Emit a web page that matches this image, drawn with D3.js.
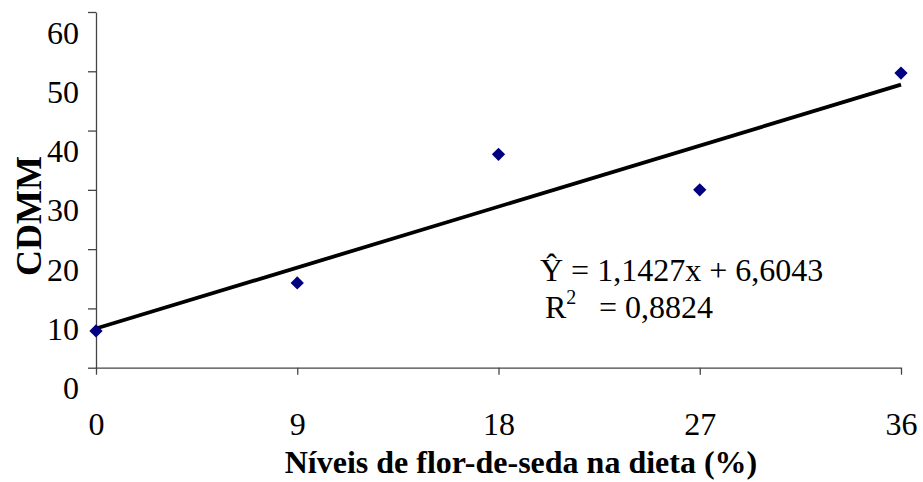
<!DOCTYPE html>
<html>
<head>
<meta charset="utf-8">
<script src="https://cdn.jsdelivr.net/npm/d3@7"></script>
<style>
  body { margin: 0; background: #fff; }
  svg text { font-family: "Liberation Serif", "Times New Roman", serif; }
</style>
</head>
<body>
<div id="chart"></div>
<script>
// data
const niveis = [0, 9, 18, 27, 36]
const cdmm = [6.2, 14.3, 36.0, 30.0, 49.7]
const xTicks = [0, 9, 18, 27, 36]
const yTicks = [0, 10, 20, 30, 40, 50, 60]
// regression given on the chart
const slope = 1.1427
const intercept = 6.6043
const eqText = "Ŷ = 1,1427x + 6,6043"
const r2Text = "= 0,8824"

const width = 923
const height = 482

const svg = d3.select("#chart").append("svg")
    .attr("width", width)
    .attr("height", height)

// scales
const x = d3.scaleLinear().domain([0, 36]).range([96, 901])
const y = d3.scaleLinear().domain([0, 60]).range([367.7, 12])

const axisColor = "#444"

// y axis
const yAxis = svg.append("g")
    .attr("transform", "translate(" + x(0) + ",0)")
    .call(d3.axisLeft(y).tickValues(yTicks).tickSizeInner(8).tickSizeOuter(0).tickFormat(d3.format("d")))
yAxis.select(".domain").attr("stroke", axisColor).attr("stroke-width", 1.3)
yAxis.selectAll(".tick line").attr("stroke", axisColor).attr("stroke-width", 1.3)
yAxis.selectAll(".tick text")
    .attr("x", -17)
    .attr("dy", 0)
    .attr("y", 31)
    .style("font-size", "32px")
    .style("fill", "#000")

// x axis
const xAxis = svg.append("g")
    .attr("transform", "translate(0," + y(0) + ")")
    .call(d3.axisBottom(x).tickValues(xTicks).tickSizeInner(7).tickSizeOuter(0).tickFormat(d3.format("d")))
xAxis.select(".domain").attr("stroke", axisColor).attr("stroke-width", 1.3)
xAxis.selectAll(".tick text")
    .attr("dy", 0)
    .attr("y", 67)
    .style("font-size", "32px")
    .style("fill", "#000")
xAxis.selectAll(".tick line").attr("stroke", axisColor).attr("stroke-width", 1.3)

// trend line from the regression equation
svg.append("line")
    .attr("x1", x(0))
    .attr("y1", y(intercept))
    .attr("x2", x(36))
    .attr("y2", y(slope * 36 + intercept))
    .attr("stroke", "#000")
    .attr("stroke-width", 3.8)

// diamond markers
svg.append("g")
    .selectAll("path")
    .data(niveis)
    .enter()
    .append("path")
        .attr("d", d3.symbol(d3.symbolSquare, 88))
        .attr("transform", function(d, i) { return "translate(" + x(d) + "," + y(cdmm[i]) + ") rotate(45)" })
        .attr("fill", "#000080")

// equation text
svg.append("text")
    .attr("x", 540)
    .attr("y", 281)
    .style("font-size", "32px")
    .text(eqText)

const r2 = svg.append("text")
    .attr("x", 545)
    .attr("y", 318)
    .style("font-size", "32px")
r2.append("tspan").text("R")
r2.append("tspan").attr("dy", -14).style("font-size", "20px").text("2")
svg.append("text")
    .attr("x", 599)
    .attr("y", 318)
    .style("font-size", "32px")
    .text(r2Text)

// axis titles
svg.append("text")
    .attr("x", 521)
    .attr("y", 473)
    .attr("text-anchor", "middle")
    .style("font-size", "32px")
    .style("font-weight", "bold")
    .text("Níveis de flor-de-seda na dieta (%)")

svg.append("text")
    .attr("transform", "translate(41,216) rotate(-90)")
    .attr("text-anchor", "middle")
    .style("font-size", "36px")
    .style("font-weight", "bold")
    .text("CDMM")
</script>
</body>
</html>
